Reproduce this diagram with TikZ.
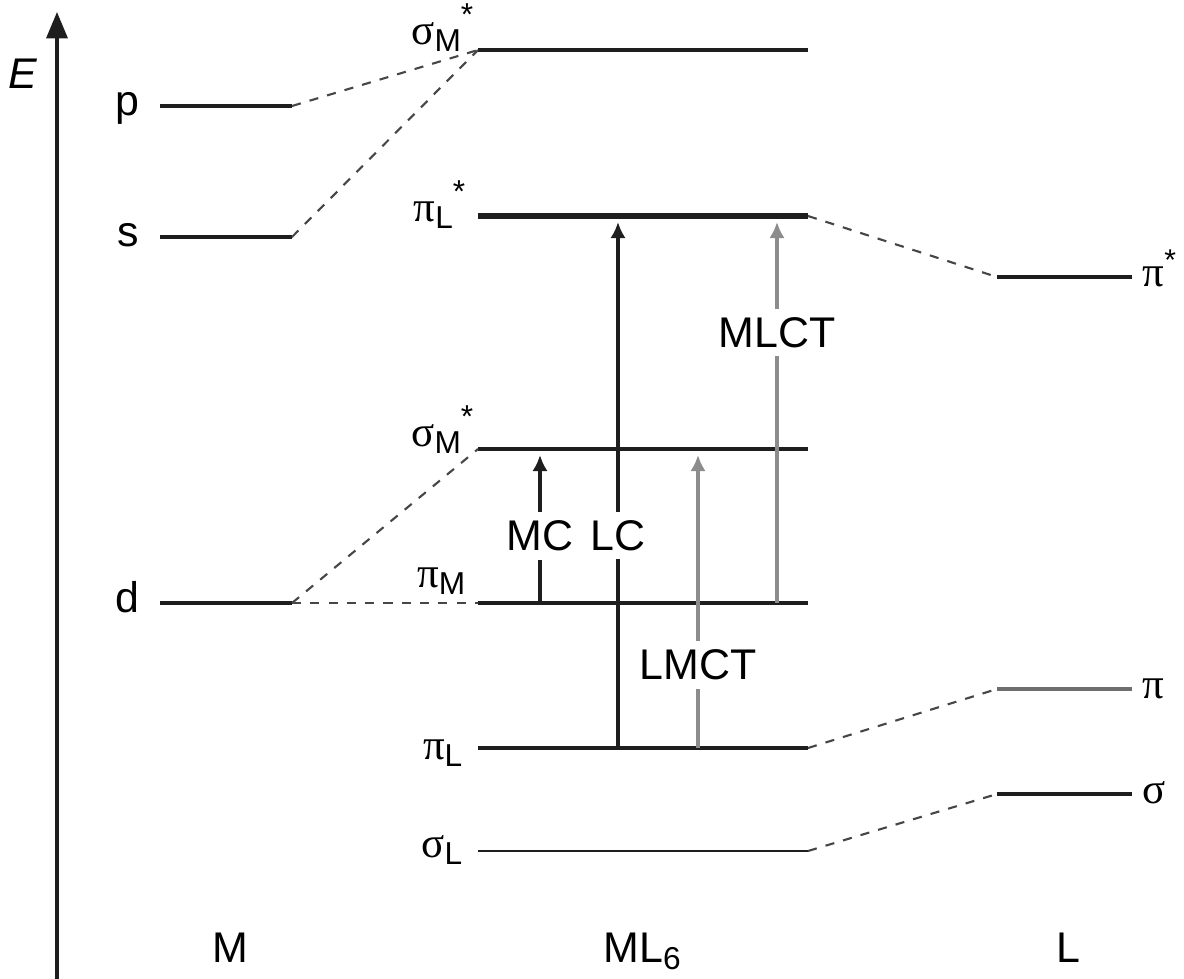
\documentclass[tikz,border=0pt]{standalone}
\usepackage{fontspec}
\setmainfont{Liberation Sans}
\newfontfamily\grk{Liberation Serif}
\usepackage{tikz}
\usetikzlibrary{arrows.meta,positioning,calc}
\definecolor{negro}{RGB}{30,30,30}
\definecolor{gristrans}{RGB}{140,140,140}
\definecolor{grisnivel}{RGB}{110,110,110}
\definecolor{grisdash}{RGB}{70,70,70}
\newcommand{\orb}[3]{{\grk #1}\raisebox{-0.35ex}{\fontsize{9}{9}\selectfont #2}\raisebox{0.8ex}{\fontsize{9}{9}\selectfont #3}}

\begin{document}
\begin{tikzpicture}[x=0.01cm,y=-0.01cm,
font=\fontsize{12.2}{14}\selectfont,
nivel/.style={draw=negro,line width=1pt},
enlace/.style={draw=grisdash,line width=0.6pt,dash pattern=on 2.6pt off 2.6pt},
trans/.style={-{Latex[length=4.6pt,width=4.4pt]},line width=0.95pt,negro},
transct/.style={trans,gristrans},
lbl/.style={fill=white,inner sep=2.5pt},
orbl/.style={anchor=base east,inner sep=0pt},
atom/.style={anchor=mid east,inner sep=0pt},
lig/.style={anchor=mid west,inner sep=0pt}
]
\useasboundingbox (0,0) rectangle (1184,978);

% eje de energia
\coordinate (ejeabajo) at (57,985);
\coordinate (ejearriba) at (57,12);
\draw[-{Triangle[length=7.5pt,width=6pt]},line width=0.9pt,negro] (ejeabajo) -- (ejearriba);
\node[font=\fontsize{12.2}{14}\selectfont\itshape] (eE) at (23,74) {E};

% niveles del metal
\coordinate (pI) at (160,106);  \coordinate (pD) at (292,106);
\coordinate (sI) at (160,237);  \coordinate (sD) at (292,237);
\coordinate (dI) at (160,603);  \coordinate (dD) at (292,603);
\draw[nivel] (pI) -- (pD);
\draw[nivel] (sI) -- (sD);
\draw[nivel] (dI) -- (dD);
\node[atom] (ep) at (140,106) {p};
\node[atom] (es) at (140,237) {s};
\node[atom] (ed) at (140,603) {d};

% niveles del complejo
\coordinate (smaI) at (478,50);   \coordinate (smaD) at (808,50);
\coordinate (pilaI) at (478,216); \coordinate (pilaD) at (808,216);
\coordinate (smbI) at (478,449);  \coordinate (smbD) at (808,449);
\coordinate (pimI) at (478,603);  \coordinate (pimD) at (808,603);
\coordinate (pilI) at (478,748);  \coordinate (pilD) at (808,748);
\coordinate (silI) at (478,851);  \coordinate (silD) at (808,851);
\draw[nivel] (smaI) -- (smaD);
\draw[nivel,line width=1.6pt] (pilaI) -- (pilaD);
\draw[nivel] (smbI) -- (smbD);
\draw[nivel] (pimI) -- (pimD);
\draw[nivel] (pilI) -- (pilD);
\draw[nivel,line width=0.8pt] (silI) -- (silD);
\node[orbl] (esma) at (474,44) {\orb{σ}{M}{*}};
\node[orbl] (epila) at (466,221) {\orb{π}{L}{*}};
\node[orbl] (esmb) at (474,446) {\orb{σ}{M}{*}};
\node[orbl] (epim) at (466,587) {\orb{π}{M}{}};
\node[orbl] (epil) at (463,759) {\orb{π}{L}{}};
\node[orbl] (esil) at (463,857) {\orb{σ}{L}{}};

% niveles del ligando
\coordinate (pieI) at (997,277); \coordinate (pieD) at (1132,277);
\coordinate (piI) at (997,689);  \coordinate (piD) at (1132,689);
\coordinate (sgI) at (997,794);  \coordinate (sgD) at (1132,794);
\draw[nivel] (pieI) -- (pieD);
\draw[nivel,draw=grisnivel] (piI) -- (piD);
\draw[nivel] (sgI) -- (sgD);
\node[lig] (epie) at (1142,277) {{\grk π}\textsuperscript{*}};
\node[lig] (epi) at (1142,689) {{\grk π}};
\node[lig] (esg) at (1142,794) {{\grk σ}};

% correlaciones
\draw[enlace] (pD) -- (smaI);
\draw[enlace] (sD) -- (smaI);
\draw[enlace] (dD) -- (smbI);
\draw[enlace] (dD) -- (pimI);
\draw[enlace] (pilaD) -- (pieI);
\draw[enlace] (pilD) -- (piI);
\draw[enlace] (silD) -- (sgI);

% transiciones
\coordinate (xmc) at (540,0);
\coordinate (xlc) at (618,0);
\coordinate (xlmct) at (698,0);
\coordinate (xmlct) at (777,0);
\draw[trans] (xmc |- pimI) -- ($(xmc |- smbI)+(0,6)$) node[lbl,pos=0.455,text=black] (tmc) {MC};
\draw[trans] (xlc |- pilI) -- ($(xlc |- pilaI)+(0,6)$) node[lbl,pos=0.404,text=black] (tlc) {LC};
\draw[transct] (xlmct |- pilI) -- ($(xlmct |- smbI)+(0,6)$) node[lbl,pos=0.284,text=black] (tlmct) {LMCT};
\draw[transct] (xmlct |- pimI) -- ($(xmlct |- pilaI)+(0,6)$) node[lbl,pos=0.71,text=black] (tmlct) {MLCT};

% rotulos inferiores
\node[anchor=base] (eM) at (230,962) {M};
\node[anchor=base] (eML) at (642,962) {ML\raisebox{-0.35ex}{\fontsize{9}{9}\selectfont 6}};
\node[anchor=base] (eL) at (1068,962) {L};
\end{tikzpicture}
\end{document}
